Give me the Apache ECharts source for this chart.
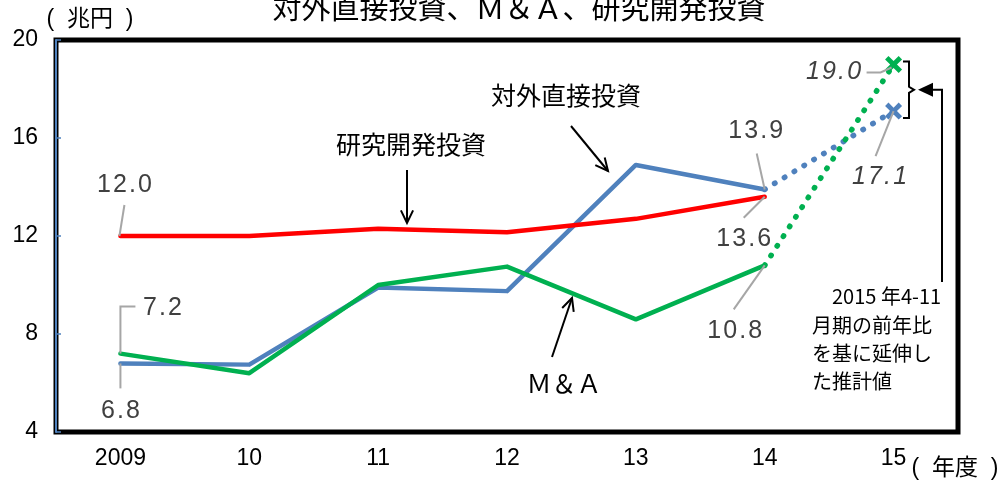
<!DOCTYPE html>
<html>
<head>
<meta charset="utf-8">
<script src="https://cdn.jsdelivr.net/npm/echarts@6/dist/echarts.min.js"></script>
<style>
  html, body { margin: 0; padding: 0; background: #fff; }
  #main { width: 1000px; height: 486px; }
</style>
</head>
<body>
<div id="main"></div>
<script>
// 年度
const years = ['2009', '10', '11', '12', '13', '14', '15'];
// 実績（兆円）
const rdInvest = [12.0, 12.0, 12.3, 12.15, 12.7, 13.6, null];
const fdiInvest = [6.8, 6.75, 9.9, 9.75, 14.9, 13.9, null];
const maInvest = [7.2, 6.4, 10.0, 10.75, 8.6, 10.8, null];
// 2015年度 推計値
const fdiEstimate = [null, null, null, null, null, 13.9, 17.1];
const maEstimate = [null, null, null, null, null, 10.8, 19.0];
// 縦軸
const yMin = 4, yMax = 20, yStep = 4;

const RED = '#ff0000', BLUE = '#4f81bd', GREEN = '#00b050';
const LATIN = '"Liberation Sans", Arial, sans-serif';
const CJK = '"Noto Sans CJK JP", "Liberation Sans", sans-serif';
const MIXED = '"Liberation Sans", "Noto Sans CJK JP", sans-serif';
const CROSS = 'path://M2,0 L5,3 L8,0 L10,2 L7,5 L10,8 L8,10 L5,7 L2,10 L0,8 L3,5 L0,2 Z';

function estimateData(arr, color) {
    return arr.map((v, i) => i === arr.length - 1
        ? { value: v, symbol: CROSS, symbolSize: 17, itemStyle: { color: color } }
        : { value: v, symbol: 'none' });
}

const chart = echarts.init(document.getElementById('main'));

chart.setOption({
    animation: false,
    grid: {
        left: 56, right: 42, top: 40, bottom: 54,
        show: true, borderColor: '#000', borderWidth: 5, backgroundColor: '#fff'
    },
    xAxis: {
        type: 'category',
        data: years,
        axisLine: { show: false },
        axisTick: { show: false },
        axisLabel: { fontSize: 23, color: '#000', fontFamily: LATIN, margin: 15 }
    },
    yAxis: {
        type: 'value',
        min: yMin, max: yMax, interval: yStep,
        splitLine: { show: false },
        axisLine: { show: true, onZero: false, lineStyle: { color: BLUE, width: 2 } },
        axisTick: { show: true, inside: true, length: 5, lineStyle: { color: BLUE, width: 1.5 } },
        axisLabel: { fontSize: 23, color: '#000', fontFamily: LATIN, margin: 18 }
    },
    series: [
        { name: '研究開発投資', type: 'line', data: rdInvest, symbol: 'none',
          lineStyle: { color: RED, width: 4.5, cap: 'round', join: 'round' }, z: 3 },
        { name: '対外直接投資', type: 'line', data: fdiInvest, symbol: 'none',
          lineStyle: { color: BLUE, width: 4.5, cap: 'round', join: 'round' }, z: 2 },
        { name: 'M&A', type: 'line', data: maInvest, symbol: 'none',
          lineStyle: { color: GREEN, width: 4.5, cap: 'round', join: 'round' }, z: 2 },
        { name: '対外直接投資推計', type: 'line', data: estimateData(fdiEstimate, BLUE),
          symbol: 'none', showSymbol: true, itemStyle: { color: BLUE },
          lineStyle: { color: BLUE, width: 5.5, type: [0.5, 11], cap: 'round' }, z: 2 },
        { name: 'M&A推計', type: 'line', data: estimateData(maEstimate, GREEN),
          symbol: 'none', showSymbol: true, itemStyle: { color: GREEN },
          lineStyle: { color: GREEN, width: 5.5, type: [0.5, 11], cap: 'round' }, z: 2 }
    ]
});

// 文字間を少し空ける
function spaced(s) { return s.split('').join('\u200A'); }

function pt(i, v) { return chart.convertToPixel({ gridIndex: 0 }, [years[i], v]); }

function txt(text, x, y, size, font, opts) {
    opts = opts || {};
    return {
        type: 'text', x: x, y: y, z: 100,
        style: {
            text: text, fill: opts.fill || '#000', fontSize: size, fontFamily: font,
            fontStyle: opts.italic ? 'italic' : 'normal',
            align: opts.align || 'center', verticalAlign: opts.valign || 'middle'
        }
    };
}

function poly(points, color, width) {
    return { type: 'polyline', z: 90, shape: { points: points },
             style: { stroke: color || '#a6a6a6', lineWidth: width || 2, fill: null } };
}

function valueLabel(text, p, dx, dy, leader, italic) {
    const pts = leader.map(o => [p[0] + o[0], p[1] + o[1]]);
    return [
        poly(pts),
        txt(spaced(text), p[0] + dx, p[1] + dy, 25, LATIN, { fill: '#404040', italic: italic })
    ];
}

function arrow(x1, y1, x2, y2) {
    const a = Math.atan2(y2 - y1, x2 - x1), h = 14, w = 0.45;
    return [
        poly([[x1, y1], [x2, y2]], '#000', 2),
        poly([[x2 - h * Math.cos(a - w), y2 - h * Math.sin(a - w)], [x2, y2],
              [x2 - h * Math.cos(a + w), y2 - h * Math.sin(a + w)]], '#000', 2)
    ];
}

const g = [];
// タイトル・単位
g.push(txt('対外直接投資、Ｍ＆Ａ、研究開発投資', 519, 22, 29, CJK, { valign: 'bottom' }));
g.push(txt('(  兆円  )', 90, 20, 23, MIXED));
g.push(txt('(  年度  )', 955, 469, 23, MIXED));

// データラベル
const p0r = pt(0, rdInvest[0]);
g.push(...valueLabel('12.0', p0r, 4, -51, [[-1, 0], [4, -31]]));
const p0m = pt(0, maInvest[0]);
g.push(...valueLabel('7.2', p0m, 42, -45, [[0, 0], [0, -47], [15, -47]]));
const p0f = pt(0, fdiInvest[0]);
g.push(...valueLabel('6.8', p0f, 0, 48, [[0, 0], [0, 25]]));
const p5f = pt(5, fdiInvest[5]);
g.push(...valueLabel('13.9', p5f, -9, -58, [[0, 0], [-8, -36]]));
const p5r = pt(5, rdInvest[5]);
g.push(...valueLabel('13.6', p5r, -21, 42, [[0, 0], [-21, 21]]));
const p5m = pt(5, maInvest[5]);
g.push(...valueLabel('10.8', p5m, -30, 66, [[0, 0], [-31, 44]]));
const p6m = pt(6, maEstimate[6]);
g.push(...valueLabel('19.0', p6m, -60, 8, [[-2, 3], [-13, 8], [-27, 8]], true));
const p6f = pt(6, fdiEstimate[6]);
g.push(...valueLabel('17.1', p6f, -14, 66, [[0, 0], [-18, 45]], true));

// 系列の注記
g.push(txt('対外直接投資', 566, 95, 25, CJK));
g.push(...arrow(571, 126, 608, 171));
g.push(txt('研究開発投資', 411, 144, 25, CJK));
g.push(...arrow(407, 170, 407, 223));
g.push(txt('Ｍ＆Ａ', 564, 383, 25, CJK));
g.push(...arrow(552, 357, 572, 298));

// 推計値の括弧と矢印
const bt = p6m[1] - 3, bb = p6f[1] + 7, bm = (bt + bb) / 2;
g.push(poly([[903, bt], [909, bt], [909, bm - 3], [914, bm], [909, bm + 3], [909, bb], [903, bb]], '#000', 2));
g.push(poly([[942, 282], [942, bm], [930, bm]], '#000', 2));
g.push({ type: 'polygon', z: 90, shape: { points: [[918, bm], [933, bm - 7], [933, bm + 7]] },
         style: { fill: '#000' } });

// 注記テキスト
g.push(txt('2015 年4-11', 832, 296, 20, CJK, { align: 'left' }));
g.push(txt('月期の前年比', 812, 325, 20, CJK, { align: 'left' }));
g.push(txt('を基に延伸し', 812, 353, 20, CJK, { align: 'left' }));
g.push(txt('た推計値', 812, 381, 20, CJK, { align: 'left' }));

chart.setOption({ graphic: g });
</script>
</body>
</html>
